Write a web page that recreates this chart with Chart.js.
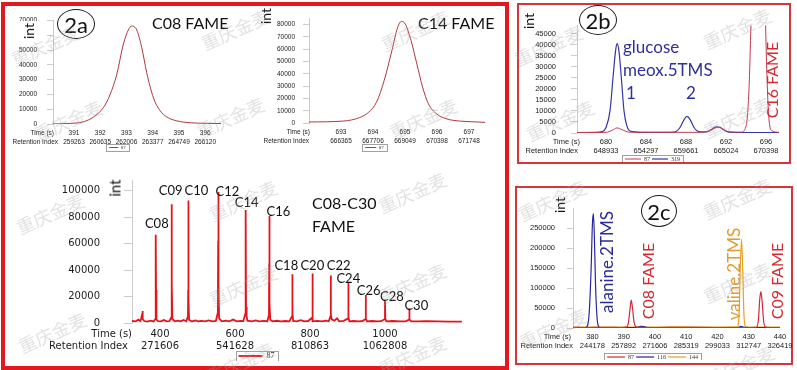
<!DOCTYPE html>
<html>
<head>
<meta charset="utf-8">
<title>FAME retention index markers</title>
<script src="https://cdn.jsdelivr.net/npm/chart.js@4.4.1/dist/chart.umd.min.js"></script>
<style>
  body { margin: 0; width: 797px; height: 370px; position: relative; overflow: hidden; background: #fff; font-family: Lato, sans-serif; color: #111; }
  canvas { position: absolute; }
  .frame { position: absolute; box-sizing: border-box; }
  .t { position: absolute; white-space: nowrap; line-height: 1; }
  .l { transform: translateY(-50%); }
  .v { transform: translate(-50%, -50%) rotate(-90deg); }
  .ring { position: absolute; box-sizing: border-box; border: 1.5px solid #1a1a1a; border-radius: 50%;
          display: flex; align-items: center; justify-content: center; font-size: 22px; transform: translate(-50%, -50%); }
  .wm { position: absolute; font-family: "Noto Sans CJK SC"; font-size: 18px; color: rgba(165,165,165,0.32);
        transform: translate(-50%, -50%) rotate(-24deg); white-space: nowrap; pointer-events: none; }
</style>
</head>
<body>
<div class="frame" style="left:1px;top:2px;width:508px;height:368px;border:4px solid #e4161e"></div>
<div class="frame" style="left:517px;top:3px;width:274px;height:161px;border:2px solid #d8343b"></div>
<div class="frame" style="left:515px;top:186px;width:278px;height:179px;border:2px solid #d8343b"></div>

<canvas id="c08" width="224" height="146" style="left:5px;top:6px"></canvas>
<canvas id="c14" width="233" height="146" style="left:255px;top:6px"></canvas>
<canvas id="mix" width="500" height="211" style="left:6px;top:150px"></canvas>
<canvas id="glu" width="265" height="156" style="left:520px;top:6px"></canvas>
<canvas id="ala" width="289" height="168" style="left:508px;top:192px"></canvas>

<!-- panel labels -->
<div class="ring" style="left:76px;top:24px;width:38px;height:30px">2a</div>
<div class="ring" style="left:598px;top:20px;width:38px;height:30px">2b</div>
<div class="ring" style="left:659px;top:211px;width:36px;height:32px">2c</div>

<div class="t l" style="left:152px;top:23px;font-size:16px">C08 FAME</div>
<div class="t l" style="left:418px;top:23px;font-size:16px">C14 FAME</div>
<div class="t l" style="left:312px;top:203px;font-size:16px">C08-C30</div>
<div class="t l" style="left:312px;top:226px;font-size:16px">FAME</div>

<div class="t l" style="left:623px;top:46px;font-size:17px;color:#30309a">glucose</div>
<div class="t l" style="left:623px;top:69px;font-size:17px;color:#30309a">meox.5TMS</div>
<div class="t l" style="left:626px;top:92px;font-size:17px;color:#30309a">1</div>
<div class="t l" style="left:686px;top:92px;font-size:17px;color:#30309a">2</div>
<div class="t v" style="left:772px;top:80px;font-size:16px;color:#d42a30">C16 FAME</div>

<div class="t v" style="left:606px;top:262px;font-size:17px;color:#2b2b98">alanine.2TMS</div>
<div class="t v" style="left:648px;top:281px;font-size:16px;color:#d42a30">C08 FAME</div>
<div class="t v" style="left:733px;top:274px;font-size:17px;color:#e39b2d">valine.2TMS</div>
<div class="t v" style="left:777px;top:281px;font-size:16px;color:#d42a30">C09 FAME</div>

<div class="t v" style="left:29px;top:31px;font-size:14px;background:#fff;padding:5px 2px">int</div>
<div class="t v" style="left:266px;top:16px;font-size:14px">int</div>
<div class="t v" style="left:115px;top:188px;font-size:15px">int</div>
<div class="t v" style="left:529px;top:21px;font-size:14px">int</div>
<div class="t v" style="left:560px;top:205px;font-size:14px">int</div>

<script>
// ---------- 2a top left: C08 FAME, ion 87 ----------
const c08Time = [390.2, 390.7, 391.36, 391.74, 392.12, 392.37, 392.63, 392.88, 393.07, 393.2,
                 393.39, 393.58, 393.77, 394.03, 394.28, 394.54, 394.92, 395.43, 396.06, 396.6];
const c08Int  = [100, 300, 1500, 4700, 11100, 19700, 33600, 54000, 63600, 66300,
                 63600, 51800, 34700, 17500, 9000, 4700, 2100, 850, 450, 300];
const c08TimeTicks = [391, 392, 393, 394, 395, 396];
const c08RiTicks = [259263, 260635, 262006, 263377, 264749, 266120];
const c08YTicks = [0, 10000, 20000, 30000, 40000, 50000, 60000, 70000];

// ---------- 2a top right: C14 FAME, ion 87 ----------
const c14Time = [692.0, 693.08, 693.57, 693.87, 694.11, 694.35, 694.59, 694.77, 694.89, 695.01,
                 695.19, 695.37, 695.55, 695.73, 695.98, 696.28, 696.7, 697.3, 697.5];
const c14Int  = [800, 1600, 4300, 8900, 17000, 34600, 58900, 77800, 82700, 80500,
                 67000, 48100, 29200, 15700, 7600, 3500, 1600, 800, 500];
const c14TimeTicks = [693, 694, 695, 696, 697];
const c14RiTicks = [666365, 667706, 669049, 670398, 671748];
const c14YTicks = [0, 10000, 20000, 30000, 40000, 50000, 60000, 70000, 80000];

// ---------- 2a bottom: C08-C30 FAME mix, ion 87 ----------
const mixTime = [325, 335, 342, 348, 352, 353, 354.5, 358, 366, 375, 383, 387.5, 388.3, 388.8, 389.4, 390.5,
  395, 402, 410, 418, 425, 429.8, 430.8, 431.2, 431.7, 433, 440, 448, 455, 463, 470,
  474.6, 475.2, 475.6, 476.2, 477.5, 485, 495, 502, 510, 520, 530, 540, 549,
  554.3, 555.1, 555.6, 556.3, 557.5, 565, 575, 585, 595, 605, 615, 622,
  627.5, 628.2, 628.6, 629.4, 631, 633, 645, 655, 665, 678, 686,
  690.6, 691.2, 691.6, 692.3, 694, 700, 712, 722, 735, 745,
  752, 752.8, 753.5, 755, 765, 775, 785, 795, 805.4, 806.1, 806.8, 808, 820, 832, 842, 850,
  854.4, 855.2, 856, 858, 865, 872, 878, 890, 901.4, 902.1, 902.9, 905, 915, 930, 940,
  947.8, 948.5, 949.3, 952, 965, 980, 990, 999.3, 1000, 1000.8, 1004, 1020, 1040, 1055,
  1064.1, 1064.8, 1065.6, 1070, 1090, 1110, 1140, 1170, 1205];
const mixInt = [1500, 1200, 2500, 1400, 6000, 9000, 3000, 1500, 1100, 1800, 1200, 3000, 40000, 66600, 25000, 2500,
  1400, 1300, 2200, 1200, 1400, 4000, 55000, 89600, 30000, 2800, 1300, 1800, 1200, 2300, 1300,
  5000, 25000, 92500, 18000, 2500, 1200, 2000, 1300, 1600, 1200, 2000, 1300, 1600,
  8000, 62000, 98900, 30000, 3500, 1300, 1800, 1200, 2600, 1300, 1600, 1400,
  7000, 50000, 85300, 12000, 5000, 1800, 1300, 2000, 1200, 1600, 1300,
  6000, 45000, 80900, 15000, 2500, 1300, 1700, 1200, 1500, 1200,
  5000, 36900, 8000, 1500, 1300, 2200, 1200, 1500, 4000, 37400, 6000, 1300, 1600, 1200, 1800, 1300,
  5000, 35800, 6000, 2800, 1700, 3500, 1300, 1600, 3500, 30300, 4000, 1300, 1500, 1200, 1500,
  3000, 21100, 3000, 1300, 1500, 1200, 1400, 3000, 17600, 3000, 1300, 1500, 1200, 1300,
  2500, 11000, 2500, 1300, 1200, 1400, 1200, 1100, 1000];
const mixTimeTicks = [400, 600, 800, 1000];
const mixRiTicks = [271606, 541628, 810863, 1062808];
const mixYTicks = [0, 20000, 40000, 60000, 80000, 100000];
const fameNames = ['C08', 'C09', 'C10', 'C12', 'C14', 'C16', 'C18', 'C20', 'C22', 'C24', 'C26', 'C28', 'C30'];
const fameTime = [388.8, 431.2, 475.6, 555.6, 628.6, 691.6, 752.8, 806.1, 855.2, 902.1, 948.5, 1000, 1064.8];
const fameTop = [66600, 89600, 92500, 98900, 85300, 80900, 36900, 37400, 35800, 30300, 21100, 17600, 11000];

// ---------- 2b: glucose meox.5TMS, ions 87 / 319 ----------
const gluTime87 = [677.1, 680.0, 680.6, 681.1, 681.6, 682.3, 685.0, 689.0, 690.3, 690.8, 691.2, 691.7, 692.3,
                   693.5, 694.0, 694.3, 694.5, 694.8, 695.2, 695.6, 695.9, 696.1, 696.3, 696.6, 697.3];
const gluInt87 = [200, 300, 1200, 2300, 1500, 400, 300, 300, 800, 2000, 2600, 1800, 500,
                  400, 3000, 20000, 50000, 100000, 150000, 120000, 60000, 25000, 6000, 1000, 300];
const gluTime319 = [677.1, 679.0, 679.6, 680.0, 680.4, 680.7, 680.95, 681.1, 681.3, 681.55, 681.8, 682.1, 682.5,
                    683.5, 685.0, 686.5, 687.0, 687.4, 687.8, 688.1, 688.4, 688.8, 689.3, 690.0, 690.5,
                    691.0, 691.4, 691.9, 692.5, 694.0, 695.0, 696.0, 697.3];
const gluInt319 = [200, 250, 600, 2500, 10000, 25000, 37000, 40500, 37000, 24000, 10000, 3000, 700,
                   300, 250, 300, 700, 2500, 6000, 7500, 6200, 2500, 600, 500, 1500,
                   2800, 2600, 1000, 300, 200, 200, 150, 150];
const gluTimeTicks = [680, 684, 688, 692, 696];
const gluRiTicks = [648933, 654297, 659661, 665024, 670398];
const gluYTicks = [0, 5000, 10000, 15000, 20000, 25000, 30000, 35000, 40000, 45000];

// ---------- 2c: alanine / valine, ions 87 / 116 / 144 ----------
const alaTime87 = [373.8, 378.0, 385.0, 389.0, 390.8, 391.5, 392.0, 392.4, 392.8, 393.3, 393.9, 394.6,
                   400.0, 410.0, 420.0, 428.0, 432.4, 433.1, 433.5, 433.9, 434.3, 434.8, 435.4, 437.0, 440.0];
const alaInt87 = [1500, 1200, 1500, 1200, 2000, 12000, 45000, 70000, 52000, 16000, 3000, 1500,
                  1200, 1500, 1200, 1300, 1800, 20000, 70000, 91500, 65000, 15000, 2000, 1200, 1000];
const alaTime116 = [373.8, 377.5, 378.4, 379.0, 379.6, 380.0, 380.3, 380.6, 381.0, 381.5, 382.0, 382.6,
                    390.0, 394.5, 395.5, 396.5, 397.5, 410.0, 426.5, 427.5, 428.5, 440.0];
const alaInt116 = [800, 900, 5000, 40000, 150000, 260000, 287000, 240000, 110000, 25000, 4000, 1000,
                   800, 1500, 4000, 3500, 1000, 800, 900, 4000, 1500, 700];
const alaTime144 = [373.8, 385.0, 395.0, 405.0, 415.0, 424.0, 426.3, 426.9, 427.3, 427.7, 428.1, 428.5, 429.1, 432.0, 440.0];
const alaInt144 = [2000, 2500, 2200, 2800, 2400, 2600, 3000, 30000, 150000, 223000, 140000, 30000, 3000, 2500, 2200];
const alaTimeTicks = [380, 390, 400, 410, 420, 430, 440];
const alaRiTicks = [244178, 257892, 271606, 285319, 299033, 312747, 326419];
const alaYTicks = [0, 50000, 100000, 150000, 200000, 250000];

// label nudges for the FAME peak names, px from the peak top
const fameShift = [[1, -11], [-1, -14], [8, -10], [9, 0], [1, -7], [9, -4], [-6, -8],
                   [0, -8], [8, -10], [0, -4], [3, -4], [7, -3], [7, -3]];
// watermark centres
const stamps = [[45, 45], [68, 120], [50, 213], [52, 332], [235, 29], [230, 117], [243, 200], [243, 285], [240, 362],
                [415, 30], [423, 118], [412, 192], [412, 283], [412, 355], [548, 45], [560, 120], [552, 200],
                [553, 328], [737, 28], [737, 117], [737, 198], [737, 282], [740, 365]];

Chart.defaults.font.family = "'Liberation Sans', sans-serif";
Chart.defaults.animation = false;
const ink = '#1b1b1b';

/* =========================
   PLUGINS
========================= */

// "Time (s)" / "Retention Index" row headers next to the two-line tick labels
const rowHeads = {
  id: 'rowHeads',
  afterDraw(chart, args, opts) {
    const { ctx, chartArea } = chart;
    const t = chart.scales.x.options.ticks;
    const lh = opts.size * opts.lineHeight;
    const y0 = chartArea.bottom + t.padding + lh / 2;
    ctx.save();
    ctx.font = opts.size + 'px ' + opts.family;
    ctx.fillStyle = ink;
    ctx.textAlign = 'right';
    ctx.textBaseline = 'middle';
    ctx.fillText('Time (s)', chartArea.left + opts.dxT, y0);
    ctx.fillText('Retention Index', chartArea.left + opts.dxR, y0 + lh);
    ctx.restore();
  }
};

// thin box round the legend items
const legendFrame = {
  id: 'legendFrame',
  afterDraw(chart) {
    const boxes = chart.legend && chart.legend.legendHitBoxes;
    if (!boxes || !boxes.length) return;
    const l = Math.min(...boxes.map(b => b.left)) - 3;
    const r = Math.max(...boxes.map(b => b.left + b.width)) + 3;
    const t = boxes[0].top - 1;
    const b = boxes[0].top + boxes[0].height + 1;
    const ctx = chart.ctx;
    ctx.save();
    ctx.strokeStyle = '#a0a0a0';
    ctx.lineWidth = 1;
    ctx.strokeRect(Math.round(l) + 0.5, Math.round(t) + 0.5, Math.round(r - l), Math.round(b - t));
    ctx.restore();
  }
};

// FAME names above the spikes of the mix run
const fameTags = {
  id: 'fameTags',
  afterDatasetsDraw(chart) {
    const { ctx, scales: { x, y } } = chart;
    ctx.save();
    ctx.font = '13px Lato';
    ctx.fillStyle = '#111';
    ctx.textAlign = 'center';
    ctx.textBaseline = 'middle';
    fameNames.forEach((name, i) => {
      const [dx, dy] = fameShift[i];
      ctx.fillText(name, x.getPixelForValue(fameTime[i]) + dx, y.getPixelForValue(fameTop[i]) + dy);
    });
    ctx.restore();
  }
};

/* =========================
   BUILDERS
========================= */

function trace(label, xs, ys, color, width, smooth) {
  return {
    label,
    data: xs.map((x, i) => ({ x, y: ys[i] })),
    borderColor: color,
    backgroundColor: color,
    borderWidth: width,
    pointRadius: 0,
    cubicInterpolationMode: smooth ? 'monotone' : 'default',
    tension: 0
  };
}

function plot(id, p) {
  new Chart(document.getElementById(id), {
    type: 'line',
    data: { datasets: p.series },
    options: {
      responsive: false,
      layout: { padding: p.pad },
      plugins: {
        tooltip: { enabled: false },
        legend: {
          position: 'bottom',
          maxHeight: p.legendH,
          labels: {
            usePointStyle: true,
            pointStyle: 'line',
            pointStyleWidth: p.swatch,
            padding: p.legendPad,
            color: '#333',
            font: { family: "'Liberation Serif', serif", size: p.legendSize }
          }
        },
        rowHeads: { dxT: p.dxT, dxR: p.dxR, size: p.font.size, lineHeight: p.font.lineHeight, family: p.font.family }
      },
      scales: {
        x: {
          type: 'linear',
          min: p.xMin,
          max: p.xMax,
          afterBuildTicks: s => { s.ticks = p.xTicks.map(v => ({ value: v })); },
          afterFit: s => { s.height = p.xHeight; },
          grid: { display: false, drawTicks: false },
          border: { display: false },
          ticks: {
            autoSkip: false, maxRotation: 0, padding: p.xPad, color: ink, font: p.font,
            callback: (v, i) => [String(p.xTicks[i]), String(p.riTicks[i])]
          }
        },
        y: {
          min: 0,
          max: p.yMax,
          afterBuildTicks: s => { s.ticks = p.yTicks.map(v => ({ value: v })); },
          afterFit: s => { s.width = p.yWidth; },
          grid: { drawOnChartArea: false, tickLength: p.tickLen, color: '#cccccc' },
          border: { color: '#cccccc' },
          ticks: { autoSkip: false, padding: p.yPad, color: ink, font: p.font, callback: v => String(v) }
        }
      }
    },
    plugins: [rowHeads, legendFrame].concat(p.extra || [])
  });
}

const smallFont = { family: "'Liberation Sans', sans-serif", size: 6.5, lineHeight: 1.4 };
const sideFont = { family: "'Liberation Sans', sans-serif", size: 7.5, lineHeight: 1.2 };
const mixFont = { family: "'DejaVu Sans', sans-serif", size: 10, lineHeight: 1.2 };

/* =========================
   CHARTS
========================= */

plot('c08', {
  series: [trace('87', c08Time, c08Int, '#b0383c', 1, true)],
  pad: { left: 9, right: 8, top: 9, bottom: 0 },
  xMin: 390.2, xMax: 396.6, xTicks: c08TimeTicks, riTicks: c08RiTicks, xHeight: 20, xPad: 4.5,
  yMax: 70000, yTicks: c08YTicks, yWidth: 39, tickLen: 6, yPad: 10,
  font: smallFont, dxT: 1, dxR: 5,
  legendH: 8, legendSize: 5, legendPad: 1, swatch: 9
});

plot('c14', {
  series: [trace('87', c14Time, c14Int, '#b0383c', 1, true)],
  pad: { left: 9, right: 3, top: 12, bottom: 0 },
  xMin: 692, xMax: 697.5, xTicks: c14TimeTicks, riTicks: c14RiTicks, xHeight: 21, xPad: 4.5,
  yMax: 85000, yTicks: c14YTicks, yWidth: 45, tickLen: 6, yPad: 8,
  font: smallFont, dxT: 1, dxR: 0,
  legendH: 8, legendSize: 5, legendPad: 1, swatch: 11
});

plot('mix', {
  series: [trace('87', mixTime, mixInt, '#e3151c', 1.8, false)],
  pad: { left: 40, right: 39, top: 9, bottom: 0 },
  xMin: 325.3, xMax: 1218.7, xTicks: mixTimeTicks, riTicks: mixRiTicks, xHeight: 28, xPad: 5,
  yMax: 108000, yTicks: mixYTicks, yWidth: 86, tickLen: 8, yPad: 24,
  font: mixFont, dxT: 0, dxR: -4,
  legendH: 10, legendSize: 8, legendPad: 1, swatch: 24,
  extra: [fameTags]
});

plot('glu', {
  series: [
    trace('87', gluTime87, gluInt87, '#c23a50', 1, true),
    trace('319', gluTime319, gluInt319, '#3535a5', 1.2, true)
  ],
  pad: { left: 6, right: 6, top: 9, bottom: 0 },
  xMin: 677.1, xMax: 697.3, xTicks: gluTimeTicks, riTicks: gluRiTicks, xHeight: 21, xPad: 4.5,
  yMax: 48700, yTicks: gluYTicks, yWidth: 51, tickLen: 6, yPad: 15,
  font: sideFont, dxT: 3, dxR: 1,
  legendH: 8, legendSize: 6, legendPad: 2, swatch: 16
});

plot('ala', {
  series: [
    trace('87', alaTime87, alaInt87, '#d22a3a', 1.2, true),
    trace('116', alaTime116, alaInt116, '#2626a0', 1.2, true),
    trace('144', alaTime144, alaInt144, '#e8a126', 1.2, true)
  ],
  pad: { left: 11, right: 11, top: 9, bottom: 0 },
  xMin: 373.8, xMax: 440, xTicks: alaTimeTicks, riTicks: alaRiTicks, xHeight: 24, xPad: 4.5,
  yMax: 300000, yTicks: alaYTicks, yWidth: 54, tickLen: 6, yPad: 12,
  font: sideFont, dxT: -2, dxR: 0,
  legendH: 8, legendSize: 6, legendPad: 2, swatch: 18
});

// faint watermark stamps over the figure
stamps.forEach(([x, y]) => {
  const s = document.createElement('span');
  s.className = 'wm';
  s.style.left = x + 'px';
  s.style.top = y + 'px';
  s.textContent = '重庆金麦';
  document.body.appendChild(s);
});
</script>
</body>
</html>
